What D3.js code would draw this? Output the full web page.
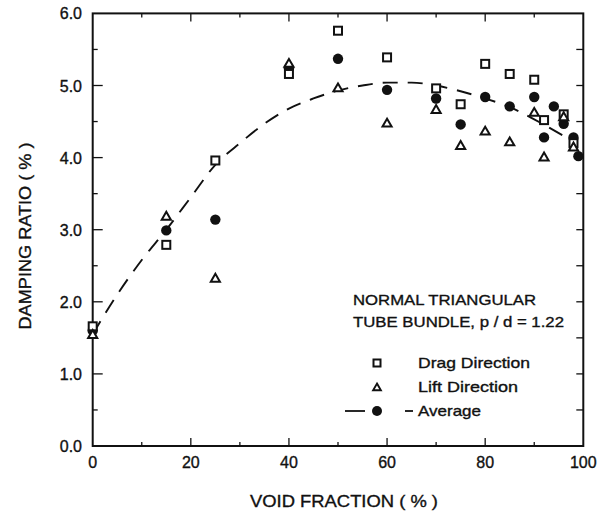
<!DOCTYPE html>
<html><head><meta charset="utf-8">
<script src="https://cdn.jsdelivr.net/npm/d3@7"></script>
<style>body{margin:0;background:#fff}svg{display:block}text{font-family:"Liberation Sans",Arial,sans-serif;fill:#111;stroke:#111;stroke-width:0.35px}</style>
</head><body><svg id="c" width="616" height="512"></svg>
<script>
// Data
const dragX  = [0, 15, 25, 40, 50, 60, 70, 75, 80, 85, 90, 92, 96, 98];
const dragY  = [1.66, 2.79, 3.96, 5.16, 5.76, 5.39, 4.96, 4.74, 5.30, 5.16, 5.08, 4.52, 4.60, 4.20];
const liftX  = [0, 15, 25, 40, 50, 60, 70, 75, 80, 85, 90, 92, 96, 98];
const liftY  = [1.55, 3.19, 2.33, 5.31, 4.97, 4.48, 4.67, 4.17, 4.37, 4.22, 4.63, 4.01, 4.57, 4.15];
const avgX   = [0, 15, 25, 40, 50, 60, 70, 75, 80, 85, 90, 92, 94, 96, 98, 99];
const avgY   = [1.60, 2.99, 3.14, 5.24, 5.37, 4.94, 4.82, 4.46, 4.84, 4.71, 4.84, 4.28, 4.71, 4.47, 4.28, 4.02];
const curveX = [0, 5, 10, 15, 20, 25, 30, 35, 40, 45, 50, 55, 60, 65, 70, 75, 80, 85, 90, 96];
const curveY = [1.55, 2.1, 2.58, 3.0, 3.45, 3.9, 4.2, 4.47, 4.68, 4.82, 4.93, 5.0, 5.04, 5.04, 5.0, 4.92, 4.82, 4.70, 4.53, 4.30];
const xTicks = [0, 20, 40, 60, 80, 100];
const yTicks = [0, 1, 2, 3, 4, 5, 6];
const xTitle = "VOID FRACTION ( % )";
const yTitle = "DAMPING RATIO ( % )";
const note1 = "NORMAL TRIANGULAR";
const note2 = "TUBE BUNDLE, p / d = 1.22";
const legendNames = ["Drag Direction", "Lift Direction", "Average"];

const svg = d3.select("#c");
const x = d3.scaleLinear().domain([0, 100]).range([92.7, 583.3]);
const y = d3.scaleLinear().domain([0, 6]).range([446, 13.4]);
const ink = "#111";

// frame
svg.append("rect").attr("x", x(0)).attr("y", y(6)).attr("width", x(100) - x(0)).attr("height", y(0) - y(6))
  .attr("fill", "none").attr("stroke", ink).attr("stroke-width", 2);

// ticks (inward)
const g = svg.append("g").attr("stroke", ink).attr("stroke-width", 1.3);
d3.range(10, 100, 10).forEach(v => {
  const len = v % 20 === 0 ? 8 : 4;
  g.append("line").attr("x1", x(v)).attr("x2", x(v)).attr("y1", y(0)).attr("y2", y(0) - len);
  g.append("line").attr("x1", x(v)).attr("x2", x(v)).attr("y1", y(6)).attr("y2", y(6) + len);
});
d3.range(0.5, 6, 0.5).forEach(v => {
  const maj = Math.abs(v - Math.round(v)) < 1e-6;
  g.append("line").attr("x1", x(0)).attr("x2", x(0) + (maj ? 10 : 5)).attr("y1", y(v)).attr("y2", y(v));
  g.append("line").attr("x1", x(100)).attr("x2", x(100) - 7).attr("y1", y(v)).attr("y2", y(v));
});

// tick labels
svg.append("g").selectAll("text").data(xTicks).join("text")
  .attr("x", d => x(d)).attr("y", 468).attr("text-anchor", "middle").attr("font-size", 16).text(d => d);
svg.append("g").selectAll("text").data(yTicks).join("text")
  .attr("x", 82).attr("y", d => y(d) + 6).attr("text-anchor", "end").attr("font-size", 16).text(d => d.toFixed(1));

// titles
svg.append("text").attr("x", 344).attr("y", 507).attr("text-anchor", "middle").attr("font-size", 17)
  .attr("textLength", 188).attr("lengthAdjust", "spacingAndGlyphs").text(xTitle);
svg.append("text").attr("transform", "translate(31,236) rotate(-90)").attr("text-anchor", "middle").attr("font-size", 17)
  .attr("textLength", 187).attr("lengthAdjust", "spacingAndGlyphs").text(yTitle);

// fitted curve
const line = d3.line().x(d => x(d[0])).y(d => y(d[1])).curve(d3.curveMonotoneX);
svg.append("path").datum(d3.zip(curveX, curveY)).attr("d", line)
  .attr("fill", "none").attr("stroke", ink).attr("stroke-width", 1.9).attr("stroke-dasharray", "15,10");

// markers
const sq = 8, tri = d3.symbol().type(d3.symbolTriangle).size(36);
function square(sel, cx, cy, s) {
  sel.append("rect").attr("x", cx - s / 2).attr("y", cy - s / 2).attr("width", s).attr("height", s)
    .attr("fill", "#fff").attr("stroke", ink).attr("stroke-width", 2);
}
const pts = svg.append("g");
d3.zip(avgX, avgY).forEach(([a, b]) => pts.append("circle").attr("cx", x(a)).attr("cy", y(b)).attr("r", 5.2).attr("fill", ink));
d3.zip(dragX, dragY).forEach(([a, b]) => square(pts, x(a), y(b), sq));
d3.zip(liftX, liftY).forEach(([a, b]) => pts.append("path").attr("d", tri)
  .attr("transform", `translate(${x(a)},${y(b) + 1})`).attr("fill", "#fff").attr("stroke", ink).attr("stroke-width", 2));

// note
svg.append("text").attr("x", 353).attr("y", 305).attr("font-size", 15).attr("textLength", 183)
  .attr("lengthAdjust", "spacingAndGlyphs").text(note1);
svg.append("text").attr("x", 353).attr("y", 327).attr("font-size", 15).attr("textLength", 211)
  .attr("lengthAdjust", "spacingAndGlyphs").text(note2);

// legend
const lx = 377, ly = [363, 387, 411], tx = 418;
square(svg, lx, ly[0], 7);
svg.append("path").attr("d", d3.symbol().type(d3.symbolTriangle).size(26))
  .attr("transform", `translate(${lx},${ly[1] + 1})`).attr("fill", "#fff").attr("stroke", ink).attr("stroke-width", 1.9);
svg.append("line").attr("x1", 345).attr("x2", 365).attr("y1", ly[2]).attr("y2", ly[2]).attr("stroke", ink).attr("stroke-width", 1.8);
svg.append("circle").attr("cx", lx).attr("cy", ly[2]).attr("r", 5).attr("fill", ink);
svg.append("line").attr("x1", 405).attr("x2", 413).attr("y1", ly[2]).attr("y2", ly[2]).attr("stroke", ink).attr("stroke-width", 1.8);
const lw = [112, 100, 63];
legendNames.forEach((n, i) => svg.append("text").attr("x", tx).attr("y", ly[i] + 5).attr("font-size", 15)
  .attr("textLength", lw[i]).attr("lengthAdjust", "spacingAndGlyphs").text(n));
</script></body></html>
